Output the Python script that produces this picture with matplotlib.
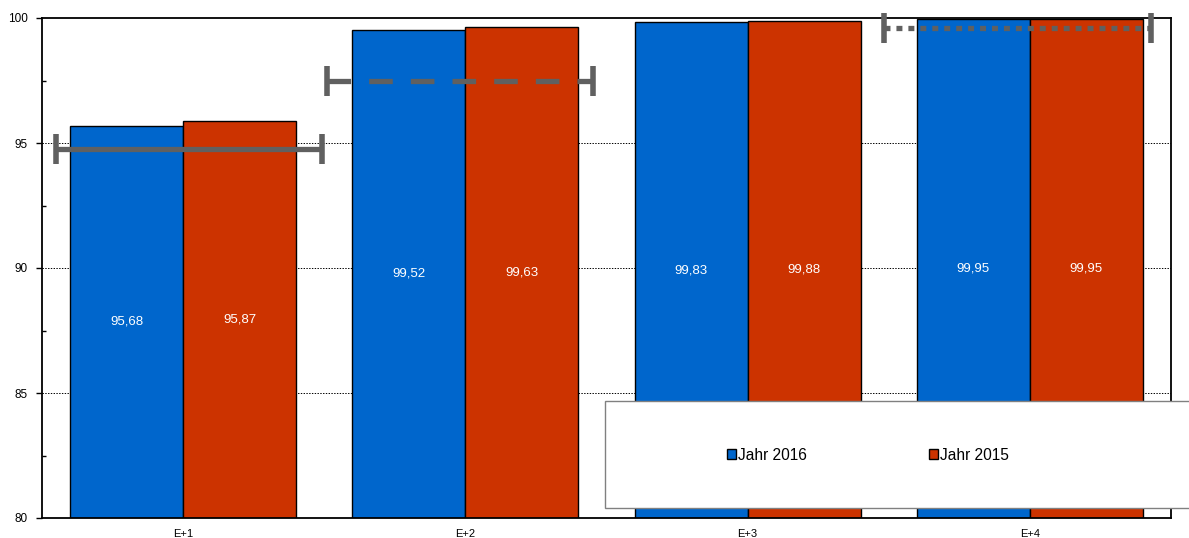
import matplotlib
matplotlib.use("Agg")
import matplotlib.pyplot as plt
from matplotlib.patches import Patch, Rectangle
from matplotlib.ticker import MultipleLocator
import numpy as np

plt.rcParams['font.family'] = ['Liberation Sans', 'DejaVu Sans']
plt.rcParams['lines.scale_dashes'] = False

categories = ["E+1", "E+2", "E+3", "E+4"]
jahr_2016 = [95.68, 99.52, 99.83, 99.95]
jahr_2015 = [95.87, 99.63, 99.88, 99.95]
labels_2016 = ["95,68", "99,52", "99,83", "99,95"]
labels_2015 = ["95,87", "99,63", "99,88", "99,95"]
series_names = ["Jahr 2016", "Jahr 2015"]

# target (Zielwert) lines per category: value and span relative to category centre
target_values = [94.75, 97.5, None, 99.6]
target_start = [-0.451, -0.489, None, -0.517]
target_end = [0.491, 0.453, None, 0.428]
target_styles = ["solid", "dashed", None, "dotted"]

blue = "#0066CC"
orange = "#CC3300"
grey = "#606060"

fig = plt.figure(figsize=(11.89, 5.38), dpi=100)
ax = fig.add_axes([42/1189, 20/538, 1129/1189, 500/538])

x = np.arange(len(categories))
w = 0.4
ax.bar(x - w/2, jahr_2016, width=w, bottom=0, color=blue, edgecolor="black", linewidth=1.0, zorder=2)
ax.bar(x + w/2, jahr_2015, width=w, bottom=0, color=orange, edgecolor="black", linewidth=1.0, zorder=2)

ax.set_xlim(-0.5, len(categories) - 0.5)
ax.set_ylim(80, 100)

for i in range(len(categories)):
    ax.text(x[i] - w/2, (80 + jahr_2016[i]) / 2, labels_2016[i], color="white",
            ha="center", va="center", fontsize=9.5, zorder=4)
    ax.text(x[i] + w/2, (80 + jahr_2015[i]) / 2, labels_2015[i], color="white",
            ha="center", va="center", fontsize=9.5, zorder=4)

dash_map = {"solid": None, "dashed": (17, 13), "dotted": (4.3, 4.3)}
for i in range(len(categories)):
    if target_values[i] is None:
        continue
    x0 = x[i] + target_start[i]
    x1 = x[i] + target_end[i]
    y = target_values[i]
    line, = ax.plot([x0, x1], [y, y], color=grey, linewidth=3.8, solid_capstyle="butt",
                    dash_capstyle="butt", zorder=5, clip_on=False)
    d = dash_map[target_styles[i]]
    if d is not None:
        line.set_dashes(d)
    ax.plot([x0, x1], [y, y], linestyle="none", marker="|", markersize=22,
            markeredgewidth=4, color=grey, zorder=5, clip_on=False)

# grid
ax.yaxis.set_major_locator(MultipleLocator(5))
ax.yaxis.set_minor_locator(MultipleLocator(2.5))
for gy in [85, 90, 95]:
    ax.axhline(gy, color="black", linewidth=0.7, linestyle=(0, (1, 1)), zorder=1)

ax.set_xticks(x)
ax.set_xticklabels(categories, fontsize=8)
ax.tick_params(axis="x", length=0, pad=8)
ax.tick_params(axis="y", which="major", length=4, width=1, direction="out", labelsize=8.5, pad=6)
ax.tick_params(axis="y", which="minor", length=3, width=1, direction="in")

for s in ax.spines.values():
    s.set_linewidth(1.3)
    s.set_color("black")

# legend box
rect = Rectangle((563/1129, 10/500), 600/1129, 107/500, transform=ax.transAxes,
                 facecolor="white", edgecolor="#808080", linewidth=1.0, zorder=10, clip_on=False)
ax.add_patch(rect)
handles = [Patch(facecolor=blue, edgecolor="black", linewidth=1.0),
           Patch(facecolor=orange, edgecolor="black", linewidth=1.0)]
leg = ax.legend(handles, series_names, loc="center", bbox_to_anchor=((868-42)/1129, 63/500),
                ncol=2, frameon=False, fontsize=11.2, handlelength=0.6, handleheight=0.6,
                handletextpad=0.15, columnspacing=7.8, borderaxespad=0)
leg.set_zorder(11)

fig.savefig("out.png", dpi=100)
